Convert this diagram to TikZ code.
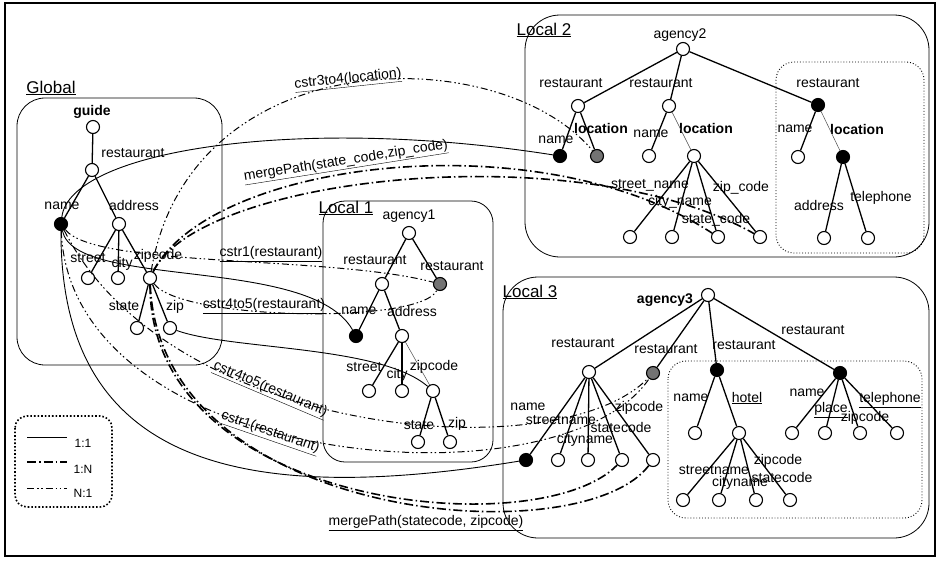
\documentclass[tikz,border=0pt]{standalone}
\usepackage{fontspec}
\setmainfont{Liberation Sans}
\begin{document}
\begin{tikzpicture}[x=1pt,y=-1pt,
  wn/.style={circle,draw,line width=1.1pt,fill=white,minimum size=13pt,inner sep=0pt},
  bn/.style={wn,fill=black},
  hn/.style={wn,fill=black!55},
  tx/.style={inner sep=0pt,font=\fontsize{14}{16}\selectfont},
  bx/.style={inner sep=0pt,font=\fontsize{14}{16}\selectfont\bfseries},
  hd/.style={inner sep=0pt,font=\fontsize{17}{19}\selectfont},
  tedge/.style={line width=1.3pt},
  faint/.style={line width=0.5pt,black!70},
  box/.style={draw,line width=0.8pt,rounded corners=#1},
  dbox/.style={draw,line width=0.9pt,dotted,rounded corners=#1},
  one/.style={line width=0.9pt},
  otn/.style={line width=1.6pt,dash pattern=on 9pt off 3pt on 1.5pt off 3pt},
  nto/.style={line width=1pt,dash pattern=on 7pt off 3pt on 1.5pt off 2.5pt on 1.5pt off 3pt}]
\useasboundingbox (0,0) rectangle (939,560);
\draw[line width=1.2pt] (5,3) rectangle (935,556);
\draw[box=28pt] (17,98) rectangle (222,365);
\draw[box=35pt] (525,15) rectangle (929,257);
\draw[dbox=18pt] (776,62) rectangle (924,253);
\draw[box=22pt] (323,201) rectangle (493,462);
\draw[box=35pt] (503,277) rectangle (929,538);
\draw[dbox=18pt] (668,361) rectangle (922,518);
\draw[line width=1.6pt,dotted,rounded corners=12pt] (15,416) rectangle (112,507);
\node[hd] (tglob) at (51,88) {\underline{Global}};
\node[hd] (tloc2) at (544,30) {\underline{Local 2}};
\node[hd] (tloc1) at (346,208) {\underline{Local 1}};
\node[hd] (tloc3) at (530,292) {\underline{Local 3}};
\node[wn] (g0) at (93,127) {};
\node[wn] (g1) at (92,170) {};
\node[bn] (g2) at (61,224) {};
\node[wn] (g3) at (119,224) {};
\node[wn] (g4) at (88,278) {};
\node[wn] (g5) at (118,278) {};
\node[wn] (g6) at (150,278) {};
\node[wn] (g7) at (137,328) {};
\node[wn] (g8) at (170,328) {};
\node[bx] (lg0) at (92,112) {guide};
\node[tx] (lg1) at (133,153) {restaurant};
\node[tx] (lg2) at (62,206) {name};
\node[tx] (lg3) at (134,205) {address};
\node[tx] (lg4) at (88,258) {street};
\node[tx] (lg5) at (122,264) {city};
\node[tx] (lg6) at (158,256) {zipcode};
\node[tx] (lg7) at (124,306) {state};
\node[tx] (lg8) at (175,307) {zip};
\foreach \a/\b in {g0/g1,g1/g2,g1/g3,g3/g4,g3/g5,g3/g6,g6/g7,g6/g8} \draw[tedge] (\a) -- (\b);
\node[wn] (a0) at (683,49) {};
\node[wn] (a1) at (578,106) {};
\node[wn] (a2) at (669,106) {};
\node[bn] (a3) at (818,105) {};
\node[bn] (a4) at (560,156) {};
\node[hn] (a5) at (597,156) {};
\node[wn] (a6) at (649,156) {};
\node[wn] (a7) at (694,156) {};
\foreach \x [count=\i from 8] in {630,672,718,760} \node[wn] (a\i) at (\x,237) {};
\node[wn] (a12) at (798,157) {};
\node[bn] (a13) at (843,157) {};
\node[wn] (a14) at (824,238) {};
\node[wn] (a15) at (868,238) {};
\node[tx] (la0) at (680,35) {agency2};
\node[tx] (la1) at (571,83) {restaurant};
\node[tx] (la2) at (661,83) {restaurant};
\node[tx] (la3) at (828,83) {restaurant};
\node[tx] (la4) at (556,140) {name};
\node[bx] (la5) at (601,128) {location};
\node[tx] (la6) at (651,134) {name};
\node[bx] (la7) at (706,128) {location};
\node[tx] (la8) at (650,185) {street\_name};
\node[tx] (la9) at (680,202) {city\_name};
\node[tx] (la10) at (716,220) {state\_code};
\node[tx] (la11) at (741,188) {zip\_code};
\node[tx] (la12) at (795,129) {name};
\node[bx] (la13) at (857,129) {location};
\node[tx] (la14) at (819,205) {address};
\node[tx] (la15) at (881,198) {telephone};
\foreach \a/\b in {a0/a1,a0/a2,a0/a3,a1/a4,a1/a5,a2/a6,a7/a8,a7/a9,a7/a10,a7/a11,a3/a12,a13/a14,a13/a15} \draw[tedge] (\a) -- (\b);
\draw[faint] (a2) -- (a7);
\draw[faint] (a3) -- (a13);
\node[wn] (b0) at (409,233) {};
\node[wn] (b1) at (382,284) {};
\node[hn] (b2) at (440,284) {};
\node[bn] (b3) at (356,336) {};
\node[wn] (b4) at (402,336) {};
\node[wn] (b5) at (369,391) {};
\node[wn] (b6) at (402,391) {};
\node[wn] (b7) at (433,391) {};
\node[wn] (b8) at (418,442) {};
\node[wn] (b9) at (450,442) {};
\node[tx] (lb0) at (409,216) {agency1};
\node[tx] (lb1) at (375,260) {restaurant};
\node[tx] (lb2) at (452,266) {restaurant};
\node[tx] (lb3) at (359,311) {name};
\node[tx] (lb4) at (412,311) {address};
\node[tx] (lb5) at (364,367) {street};
\node[tx] (lb6) at (397,375) {city};
\node[tx] (lb7) at (434,367) {zipcode};
\node[tx] (lb8) at (419,425) {state};
\node[tx] (lb9) at (457,424) {zip};
\foreach \a/\b in {b0/b1,b0/b2,b1/b3,b1/b4,b4/b5,b4/b6,b7/b8,b7/b9} \draw[tedge] (\a) -- (\b);
\draw[faint] (b4) -- (b7);
\node[wn] (c0) at (708,295) {};
\node[wn] (c1) at (589,372) {};
\node[hn] (c2) at (653,373) {};
\node[bn] (c3) at (717,370) {};
\node[bn] (c4) at (840,373) {};
\node[bn] (c5) at (526,460) {};
\foreach \x [count=\i from 6] in {558,588,622,653} \node[wn] (c\i) at (\x,460) {};
\node[wn] (c10) at (695,433) {};
\node[wn] (c11) at (739,433) {};
\foreach \x [count=\i from 12] in {683,719,756,790} \node[wn] (c\i) at (\x,500) {};
\foreach \x [count=\i from 16] in {792,825,860,897} \node[wn] (c\i) at (\x,433) {};
\node[bx] (lc0) at (665,300) {agency3};
\node[tx] (lc1) at (583,343) {restaurant};
\node[tx] (lc2) at (666,349) {restaurant};
\node[tx] (lc3) at (744,345) {restaurant};
\node[tx] (lc4) at (813,330) {restaurant};
\node[tx] (lc5) at (528,407) {name};
\node[tx] (lc6) at (561,420) {streetname};
\node[tx] (lc7) at (585,440) {cityname};
\node[tx] (lc8) at (621,427) {statecode};
\node[tx] (lc9) at (639,408) {zipcode};
\node[tx] (lc10) at (691,398) {name};
\node[tx] (lc11) at (747,398) {\underline{hotel}};
\node[tx] (lc12) at (714,470) {streetname};
\node[tx] (lc13) at (740,483) {cityname};
\node[tx] (lc14) at (778,461) {zipcode};
\node[tx] (lc15) at (782,477) {statecode};
\node[tx] (lc16) at (807,393) {name};
\node[tx] (lc17) at (831,410) {\underline{place}};
\node[tx] (lc18) at (865,418) {zipcode};
\node[tx] (lc19) at (890,400) {\underline{telephone}};
\foreach \a/\b in {c0/c1,c0/c2,c0/c3,c0/c4,c1/c5,c1/c6,c1/c7,c1/c8,c1/c9,c3/c10,c3/c11,c11/c12,c11/c13,c11/c14,c11/c15,c4/c16,c4/c17,c4/c18,c4/c19} \draw[tedge] (\a) -- (\b);
\draw[one] (g2) .. controls (70,150) and (300,115) .. (a4);
\draw[one] (g2) .. controls (75,290) and (310,255) .. (b3);
\draw[one] (g2) .. controls (60,470) and (250,505) .. (c5);
\draw[one] (g8) .. controls (230,350) and (380,345) .. (b7);
\draw[nto] (g6) .. controls (190,40) and (500,40) .. (a5);
\draw[otn] (g6) .. controls (210,160) and (540,120) .. (a10);
\draw[otn] (g6) .. controls (200,175) and (580,135) .. (a11);
\draw[nto] (g2) .. controls (95,268) and (330,255) .. (b2);
\draw[nto] (g6) .. controls (180,320) and (420,325) .. (b2);
\draw[nto] (g2) .. controls (170,440) and (560,470) .. (c2);
\draw[nto] (g2) .. controls (70,470) and (560,510) .. (c2);
\draw[otn] (g6) .. controls (150,510) and (540,545) .. (c8);
\draw[otn] (g6) .. controls (160,522) and (580,556) .. (c9);
\node[tx,rotate=6] (m1) at (348,80) {\underline{cstr3to4(location)}};
\node[tx,rotate=9] (m2) at (346,162) {\underline{mergePath(state\_code,zip\_code)}};
\node[tx] (m3) at (271,254) {\underline{cstr1(restaurant)}};
\node[tx] (m4) at (264,306) {\underline{cstr4to5(restaurant)}};
\node[tx,rotate=-23] (m5) at (270,390) {\underline{cstr4to5(restaurant)}};
\node[tx,rotate=-19] (m6) at (270,433) {\underline{cstr1(restaurant)}};
\node[tx] (m7) at (426,523) {\underline{mergePath(statecode, zipcode)}};
\coordinate (k1a) at (27,437); \coordinate (k1b) at (67,437);
\coordinate (k2a) at (27,462); \coordinate (k2b) at (67,462);
\coordinate (k3a) at (27,488); \coordinate (k3b) at (67,488);
\draw[one] (k1a) -- (k1b);
\draw[otn] (k2a) -- (k2b);
\draw[nto] (k3a) -- (k3b);
\node[tx,font=\fontsize{12}{14}\selectfont] (k1) at (83,443) {1:1};
\node[tx,font=\fontsize{12}{14}\selectfont] (k2) at (83,469) {1:N};
\node[tx,font=\fontsize{12}{14}\selectfont] (k3) at (83,493) {N:1};
\end{tikzpicture}
\end{document}
